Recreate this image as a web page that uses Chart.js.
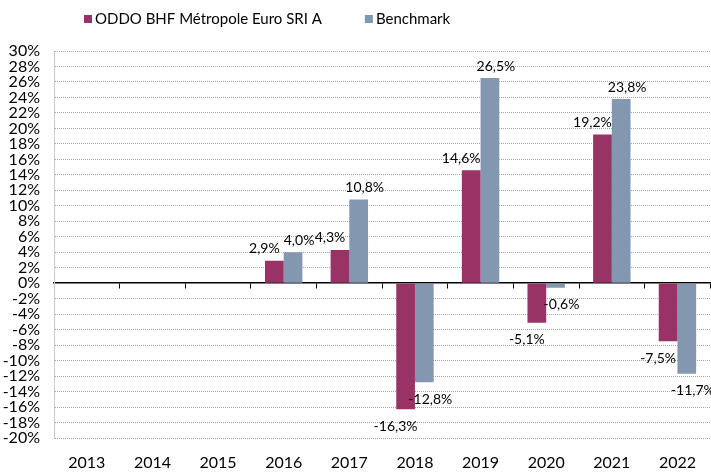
<!DOCTYPE html>
<html>
<head>
<meta charset="utf-8">
<script src="https://cdn.jsdelivr.net/npm/chart.js@4.4.1/dist/chart.umd.min.js"></script>
<style>
  html, body { margin: 0; padding: 0; background: #fff; }
  #wrap { position: relative; width: 711px; height: 473px; }
</style>
</head>
<body>
<div id="wrap"><canvas id="chart"></canvas></div>
<script>
// annual returns in %, null = no data for that year
const years = ['2013', '2014', '2015', '2016', '2017', '2018', '2019', '2020', '2021', '2022'];
const fundReturns = [null, null, null, 2.9, 4.3, -16.3, 14.6, -5.1, 19.2, -7.5];
const benchmarkReturns = [null, null, null, 4.0, 10.8, -12.8, 26.5, -0.6, 23.8, -11.7];
const seriesNames = ['ODDO BHF Métropole Euro SRI A', 'Benchmark'];
const yMin = -20;
const yMax = 30;
const yStep = 2;

const FUND_COLOR = '#993366';
const BENCH_COLOR = '#8497B0';
const FONT = 'Lato, "Open Sans", sans-serif';

Chart.defaults.font.family = FONT;
Chart.defaults.color = '#000';

const fmt = v => v.toFixed(1).replace('.', ',') + '%';

// value labels at the end of each bar
const barLabels = {
  id: 'barLabels',
  afterDatasetsDraw(chart) {
    const ctx = chart.ctx;
    ctx.save();
    ctx.font = '14px ' + FONT;
    ctx.fillStyle = '#000';
    ctx.textAlign = 'center';
    ctx.textBaseline = 'middle';
    chart.data.datasets.forEach((ds, di) => {
      const meta = chart.getDatasetMeta(di);
      const shift = di === 0 ? -10 : 6;
      meta.data.forEach((bar, i) => {
        const v = ds.data[i];
        if (v === null || v === undefined) return;
        const y = v >= 0 ? bar.y - 12 : bar.y + 17;
        ctx.fillText(fmt(v), bar.x + shift, y);
      });
    });
    ctx.restore();
  }
};

// legend row above the plot
const topLegend = {
  id: 'topLegend',
  afterDraw(chart) {
    const ctx = chart.ctx;
    ctx.save();
    ctx.font = '15px ' + FONT;
    ctx.textBaseline = 'middle';
    let x = 84;
    const y = 19;
    chart.data.datasets.forEach(ds => {
      ctx.fillStyle = ds.backgroundColor;
      ctx.fillRect(x, y - 4, 8, 8);
      ctx.fillStyle = '#000';
      ctx.fillText(ds.label, x + 11, y);
      x += 11 + ctx.measureText(ds.label).width + 43;
    });
    ctx.restore();
  }
};

new Chart(document.getElementById('chart'), {
  type: 'bar',
  data: {
    labels: years,
    datasets: [
      {
        label: seriesNames[0],
        data: fundReturns,
        backgroundColor: FUND_COLOR,
        categoryPercentage: 0.57,
        barPercentage: 1.0
      },
      {
        label: seriesNames[1],
        data: benchmarkReturns,
        backgroundColor: BENCH_COLOR,
        categoryPercentage: 0.57,
        barPercentage: 1.0
      }
    ]
  },
  options: {
    responsive: true,
    maintainAspectRatio: false,
    animation: false,
    layout: { padding: { top: 51, right: 0, left: 0, bottom: 0 } },
    plugins: {
      legend: { display: false },
      tooltip: { enabled: false }
    },
    scales: {
      x: {
        offset: true,
        grid: { display: false, drawTicks: false },
        border: { display: false },
        ticks: { font: { size: 16 }, padding: 15, maxRotation: 0, autoSkip: false },
        afterFit(scale) { scale.height = 35; }
      },
      // zero line with the small category ticks hanging below it
      x0: {
        type: 'category',
        offset: true,
        position: { y: 0 },
        grid: { offset: true, drawOnChartArea: false, drawTicks: true, tickLength: 5, color: '#000', lineWidth: 1 },
        border: { color: '#000', width: 1.5 },
        ticks: { display: false }
      },
      y: {
        min: yMin,
        max: yMax,
        ticks: {
          stepSize: yStep,
          autoSkip: false,
          font: { size: 16, lineHeight: 1 },
          padding: 14,
          callback: v => v + '%'
        },
        grid: {
          drawTicks: false,
          color: c => c.tick && c.tick.value === 0 ? 'rgba(0,0,0,0)' : '#a6a6a6',
          lineWidth: 1
        },
        border: { color: '#c8c8c8', width: 1, dash: [1, 1] },
        afterFit(scale) { scale.width = 54; }
      }
    }
  },
  plugins: [barLabels, topLegend]
});
</script>
</body>
</html>
